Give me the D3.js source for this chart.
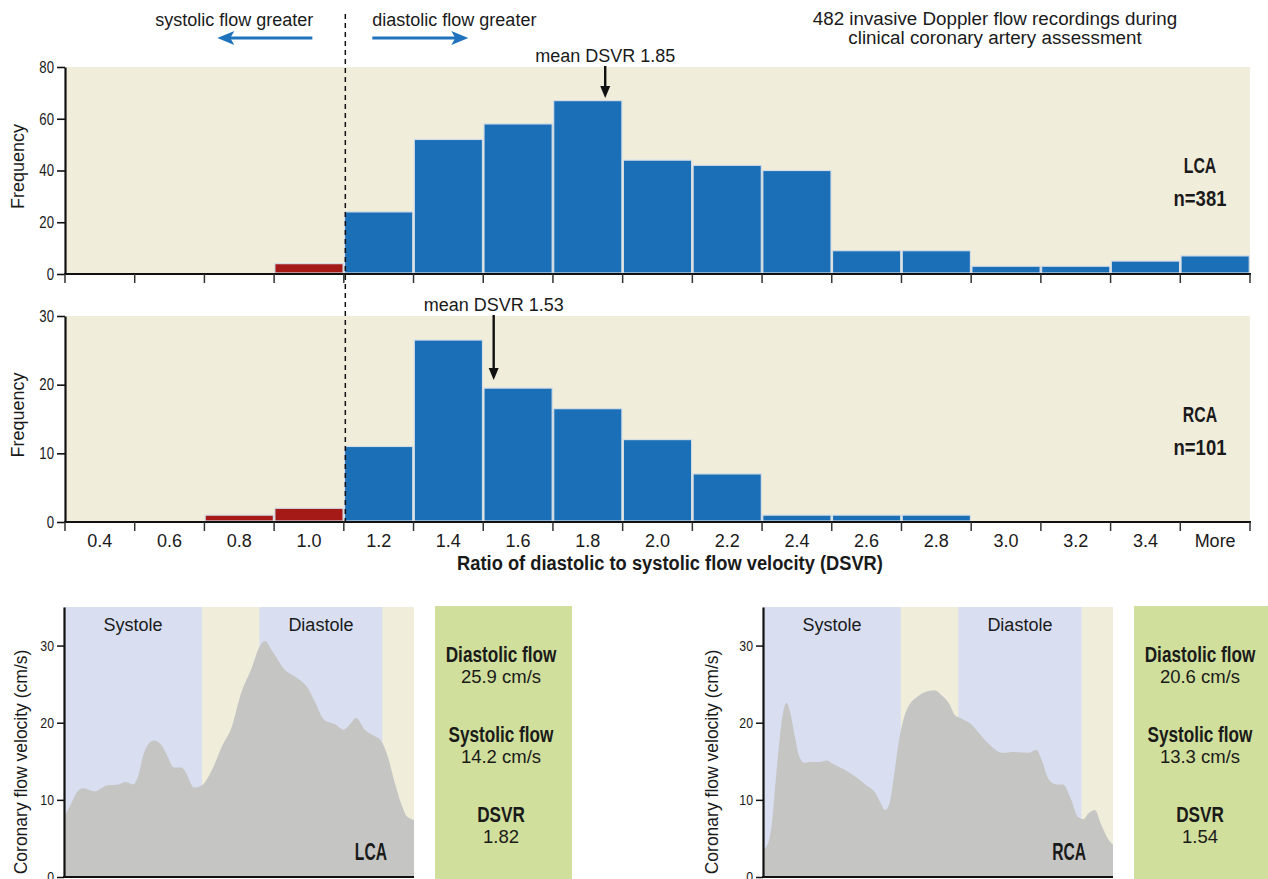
<!DOCTYPE html>
<html>
<head>
<meta charset="utf-8">
<script src="https://cdn.jsdelivr.net/npm/d3@7"></script>
<style>
  body { margin: 0; background: #ffffff; }
  svg { display: block; }
  .reg { font-family: "Liberation Sans", Arial, sans-serif; fill: #1a1a1a; }
  .nar { font-family: "Liberation Sans", Arial, sans-serif; fill: #1a1a1a; }
</style>
</head>
<body>
<svg id="chart" width="1268" height="879"></svg>
<script>
// ---- Histogram data: DSVR bins (upper bin labels) and counts per artery ----
const binLabels = ["0.4", "0.6", "0.8", "1.0", "1.2", "1.4", "1.6", "1.8", "2.0",
                   "2.2", "2.4", "2.6", "2.8", "3.0", "3.2", "3.4", "More"];
const lcaCounts = [0, 0, 0, 4, 24, 52, 58, 67, 44, 42, 40, 9, 9, 3, 3, 5, 7];
const rcaCounts = [0, 0, 1, 2, 11, 26.5, 19.5, 16.5, 12, 7, 1, 1, 1, 0, 0, 0, 0];
const lcaTicks = [0, 20, 40, 60, 80];
const rcaTicks = [0, 10, 20, 30];
const lcaMean = 1.85;
const rcaMean = 1.53;
const systolicLimit = 1.0;   // bins at or below this ratio: systolic flow dominates

// ---- Example Doppler waveforms (time as % of cardiac cycle, velocity cm/s) ----
const lcaTime = [0, 1.8, 3.9, 5.5, 8.7, 12.4, 15.6, 17.7, 19.8, 20.8, 23.0, 25.6, 27.7, 29.3, 31.4,
  33.5, 34.6, 37.2, 39.4, 42.5, 45.2, 47.8, 50.5, 53.7, 55.8, 57.4, 59.5, 63.2, 66.3, 69.5, 71.6,
  74.3, 77.5, 79.9, 81.7, 83.5, 85.9, 88.6, 90.7, 92.3, 94.4, 96.5, 98.1, 100];
const lcaVelocity = [7.8, 9.3, 11.1, 11.5, 11.1, 11.9, 12.0, 12.3, 12.0, 12.6, 16.3, 17.7, 17.2, 15.9,
  14.2, 14.2, 13.7, 11.6, 11.9, 14.1, 17.0, 19.3, 23.7, 27.2, 29.8, 30.6, 29.3, 26.8, 25.9, 24.6,
  22.8, 20.4, 19.8, 19.1, 19.8, 20.6, 19.1, 18.3, 17.6, 15.9, 12.4, 9.3, 7.8, 7.4];
const rcaTime = [0, 1.6, 2.6, 3.6, 4.9, 5.9, 6.7, 7.8, 9.0, 10.3, 11.9, 13.4, 16.0, 18.1, 20.2, 23.3,
  26.4, 29.5, 32.1, 33.6, 34.9, 36.2, 37.2, 38.8, 40.3, 41.9, 43.9, 46.5, 49.1, 50.7, 53.3, 54.8,
  56.4, 59.5, 62.0, 65.1, 68.3, 71.9, 76.0, 78.1, 79.6, 81.7, 83.8, 85.8, 87.9, 90.0, 91.5, 93.1,
  94.8, 96.7, 98.8, 100];
const rcaVelocity = [3.5, 4.6, 7.2, 12.4, 18.5, 21.7, 22.6, 21.3, 18.5, 15.7, 14.8, 14.9, 14.9, 15.1,
  14.6, 13.9, 13.0, 11.9, 10.9, 9.6, 8.7, 9.6, 12.4, 17.6, 20.7, 22.4, 23.3, 24.0, 24.2, 23.7, 22.4,
  21.0, 20.6, 19.8, 18.5, 17.0, 16.1, 16.2, 16.1, 16.5, 15.2, 12.6, 12.0, 12.0, 10.2, 7.8, 7.5, 8.3,
  8.7, 6.7, 4.8, 4.2];
const systolePhase = [0, 39.4];
const diastolePhase = [55.8, 91.0];
const waveTicks = [0, 10, 20, 30];

const lcaSummary = [["Diastolic flow", "25.9 cm/s"], ["Systolic flow", "14.2 cm/s"], ["DSVR", "1.82"]];
const rcaSummary = [["Diastolic flow", "20.6 cm/s"], ["Systolic flow", "13.3 cm/s"], ["DSVR", "1.54"]];

// ---- Palette ----
const C = {
  panel: "#f1eddb", blue: "#1b6fb7", red: "#a51916", barEdge: "#d3dde6",
  phase: "#d9dff1", wave: "#c5c6c4", summary: "#d1df9c", arrow: "#1f73bd", ink: "#111"
};

// squeeze text horizontally to get a condensed face from the installed sans
function narrow(sel, k) {
  sel.each(function () {
    const t = d3.select(this);
    const x0 = +t.attr("x") || 0, y0 = +t.attr("y") || 0;
    t.attr("x", 0).attr("y", 0).attr("transform", `translate(${x0},${y0}) scale(${k},1)`);
  });
  return sel;
}

const svg = d3.select("#chart");

// ================= Histograms =================
const x = d3.scaleBand().domain(binLabels).range([65, 1250]).paddingInner(0).paddingOuter(0);
const bw = x.bandwidth();
// numeric position of a DSVR value along the bin centres
const binValue = binLabels.map(d => d === "More" ? 3.6 : +d);
const xVal = d3.scaleLinear()
  .domain([binValue[0], binValue[binValue.length - 1]])
  .range([x(binLabels[0]) + bw / 2, x(binLabels[binLabels.length - 1]) + bw / 2]);

function histogram(cfg) {
  const y = d3.scaleLinear().domain([0, cfg.ticks[cfg.ticks.length - 1]]).range([cfg.bottom, cfg.top]);
  const g = svg.append("g");

  g.append("rect").attr("x", 65).attr("y", cfg.top).attr("width", 1250 - 65)
    .attr("height", cfg.bottom - cfg.top).attr("fill", C.panel);

  const data = binLabels.map((b, i) => ({ bin: b, value: cfg.counts[i], v: binValue[i] }));
  g.selectAll("rect.bar").data(data.filter(d => d.value > 0)).join("rect")
    .attr("class", "bar")
    .attr("x", d => x(d.bin) + 0.75)
    .attr("width", bw - 1.5)
    .attr("y", d => y(d.value))
    .attr("height", d => y(0) - y(d.value) - 1)
    .attr("fill", d => d.v <= systolicLimit ? C.red : C.blue)
    .attr("stroke", C.barEdge).attr("stroke-width", 1.2);

  // y axis
  const ya = g.append("g").attr("transform", "translate(65,0)")
    .call(d3.axisLeft(y).tickValues(cfg.ticks).tickSize(8).tickPadding(3).tickSizeOuter(0));
  ya.select(".domain").attr("stroke", C.ink).attr("stroke-width", 2.2);
  ya.selectAll(".tick line").attr("stroke", C.ink).attr("stroke-width", 1.6);
  narrow(ya.selectAll(".tick text").attr("class", "nar").style("font-size", "16.5px").attr("fill", "#222"), 0.8);

  // x axis: baseline, boundary ticks, centred labels
  g.append("line").attr("x1", 64).attr("x2", 1251).attr("y1", cfg.bottom).attr("y2", cfg.bottom)
    .attr("stroke", C.ink).attr("stroke-width", 2.2);
  const edges = binLabels.map(b => x(b)).concat([x(binLabels[binLabels.length - 1]) + bw]);
  g.selectAll("line.edge").data(edges).join("line").attr("class", "edge")
    .attr("x1", d => d).attr("x2", d => d)
    .attr("y1", cfg.bottom).attr("y2", cfg.bottom + 9)
    .attr("stroke", "#333").attr("stroke-width", 1.5);
  if (cfg.labels) {
    g.selectAll("text.xl").data(binLabels).join("text").attr("class", "reg")
      .attr("x", d => x(d) + bw / 2).attr("y", cfg.bottom + 25)
      .attr("text-anchor", "middle").style("font-size", "18px").attr("fill", "#222").text(d => d);
  }

  // axis title
  g.append("text").attr("class", "reg")
    .attr("transform", `translate(24,${(cfg.top + cfg.bottom) / 2 - 4}) rotate(-90)`)
    .attr("text-anchor", "middle").style("font-size", "18px").text("Frequency");

  // artery label
  narrow(g.append("text").attr("class", "nar").attr("x", 1200).attr("y", cfg.top + 106)
    .attr("text-anchor", "middle").style("font-size", "22px").style("font-weight", "bold").text(cfg.name), 0.72);
  narrow(g.append("text").attr("class", "nar").attr("x", 1200).attr("y", cfg.top + 139)
    .attr("text-anchor", "middle").style("font-size", "22px").style("font-weight", "bold").text(cfg.n), 0.84);

  // mean marker
  const mx = xVal(cfg.mean);
  g.append("text").attr("class", "reg").attr("x", mx).attr("y", cfg.top - 5)
    .attr("text-anchor", "middle").style("font-size", "18px").text("mean DSVR " + d3.format(".2f")(cfg.mean));
  const tipY = cfg.arrowTip;
  g.append("line").attr("x1", mx).attr("x2", mx).attr("y1", cfg.top - 1).attr("y2", tipY - 10)
    .attr("stroke", C.ink).attr("stroke-width", 2.4);
  g.append("path").attr("d", `M${mx - 5},${tipY - 12}L${mx + 5},${tipY - 12}L${mx},${tipY}Z`).attr("fill", C.ink);
  return y;
}

histogram({ counts: lcaCounts, ticks: lcaTicks, top: 67, bottom: 274, labels: false,
  name: "LCA", n: "n=381", mean: lcaMean, arrowTip: 98 });
histogram({ counts: rcaCounts, ticks: rcaTicks, top: 316, bottom: 522, labels: true,
  name: "RCA", n: "n=101", mean: rcaMean, arrowTip: 380 });

narrow(svg.append("text").attr("class", "nar").attr("x", 670).attr("y", 570)
  .attr("text-anchor", "middle").style("font-size", "20px").style("font-weight", "bold")
  .text("Ratio of diastolic to systolic flow velocity (DSVR)"), 0.915);

// equal-flow divider (DSVR = 1) between the "1.0" and "1.2" bins
const divX = x("1.2") + 1.5;
svg.append("line").attr("x1", divX).attr("x2", divX).attr("y1", 14).attr("y2", 525)
  .attr("stroke", C.ink).attr("stroke-width", 1.5).attr("stroke-dasharray", "5,4");

// direction captions and arrows
svg.append("text").attr("class", "reg").attr("x", divX - 32).attr("y", 26)
  .attr("text-anchor", "end").style("font-size", "18px").text("systolic flow greater");
svg.append("text").attr("class", "reg").attr("x", divX + 27).attr("y", 26)
  .attr("text-anchor", "start").style("font-size", "18px").text("diastolic flow greater");
function hArrow(x0, x1, yy) {
  const dir = Math.sign(x1 - x0);
  svg.append("line").attr("x1", x0).attr("x2", x1 - dir * 12).attr("y1", yy).attr("y2", yy)
    .attr("stroke", C.arrow).attr("stroke-width", 3);
  svg.append("path").attr("d", `M${x1},${yy}L${x1 - dir * 17},${yy - 7}L${x1 - dir * 13},${yy}L${x1 - dir * 17},${yy + 7}Z`)
    .attr("fill", C.arrow);
}
hArrow(divX - 33, divX - 128, 38);
hArrow(divX + 27, divX + 123, 38);

svg.append("text").attr("class", "reg").attr("x", 995).attr("y", 25)
  .attr("text-anchor", "middle").style("font-size", "18.8px").text("482 invasive Doppler flow recordings during");
svg.append("text").attr("class", "reg").attr("x", 995).attr("y", 44)
  .attr("text-anchor", "middle").style("font-size", "18.8px").text("clinical coronary artery assessment");

// ================= Example waveforms =================
function wavePanel(cfg) {
  const g = svg.append("g");
  const xs = d3.scaleLinear().domain([0, 100]).range([cfg.left, cfg.left + 350]);
  const ys = d3.scaleLinear().domain([0, 35]).range([877, 607]);

  g.append("rect").attr("x", xs(0)).attr("y", ys(35)).attr("width", xs(100) - xs(0))
    .attr("height", ys(0) - ys(35)).attr("fill", C.panel);
  [systolePhase, diastolePhase].forEach(p => {
    g.append("rect").attr("x", xs(p[0])).attr("y", ys(35)).attr("width", xs(p[1]) - xs(p[0]))
      .attr("height", ys(0) - ys(35)).attr("fill", C.phase);
  });

  const pts = cfg.time.map((t, i) => [t, cfg.velocity[i]]);
  const area = d3.area().x(d => xs(d[0])).y0(ys(0)).y1(d => ys(d[1])).curve(d3.curveMonotoneX);
  g.append("path").datum(pts).attr("d", area).attr("fill", C.wave);

  g.append("text").attr("class", "reg").attr("x", xs((systolePhase[0] + systolePhase[1]) / 2)).attr("y", 631)
    .attr("text-anchor", "middle").style("font-size", "18px").text("Systole");
  g.append("text").attr("class", "reg").attr("x", xs((diastolePhase[0] + diastolePhase[1]) / 2)).attr("y", 631)
    .attr("text-anchor", "middle").style("font-size", "18px").text("Diastole");

  narrow(g.append("text").attr("class", "nar").attr("x", xs(100) - 27).attr("y", 860)
    .attr("text-anchor", "end").style("font-size", "23px").style("font-weight", "bold").text(cfg.name), 0.68);

  const ya = g.append("g").attr("transform", `translate(${cfg.left},0)`)
    .call(d3.axisLeft(ys).tickValues(waveTicks).tickSize(7).tickPadding(3).tickSizeOuter(0));
  ya.select(".domain").attr("stroke", C.ink).attr("stroke-width", 2.2);
  ya.selectAll(".tick line").attr("stroke", C.ink).attr("stroke-width", 1.5);
  narrow(ya.selectAll(".tick text").attr("class", "nar").style("font-size", "15px").attr("fill", "#222"), 0.82);
  g.append("line").attr("x1", cfg.left - 1).attr("x2", xs(100)).attr("y1", ys(0)).attr("y2", ys(0))
    .attr("stroke", C.ink).attr("stroke-width", 2.2);

  g.append("text").attr("class", "reg")
    .attr("transform", `translate(${cfg.left - cfg.labelGap},762) rotate(-90)`)
    .attr("text-anchor", "middle").style("font-size", "17.5px").text("Coronary flow velocity (cm/s)");

  // summary box
  const bx = xs(100) + 21;
  g.append("rect").attr("x", bx).attr("y", 606).attr("width", 137).attr("height", 280).attr("fill", C.summary);
  cfg.summary.forEach((s, i) => {
    narrow(g.append("text").attr("class", "nar").attr("x", bx + 66).attr("y", 662 + i * 80)
      .attr("text-anchor", "middle").style("font-size", "22px").style("font-weight", "bold").text(s[0]), 0.78);
    g.append("text").attr("class", "reg").attr("x", bx + 66).attr("y", 683 + i * 80)
      .attr("text-anchor", "middle").style("font-size", "18.5px").text(s[1]);
  });
}

wavePanel({ left: 64, time: lcaTime, velocity: lcaVelocity, name: "LCA", summary: lcaSummary, labelGap: 37 });
wavePanel({ left: 763, time: rcaTime, velocity: rcaVelocity, name: "RCA", summary: rcaSummary, labelGap: 45 });
</script>
</body>
</html>
